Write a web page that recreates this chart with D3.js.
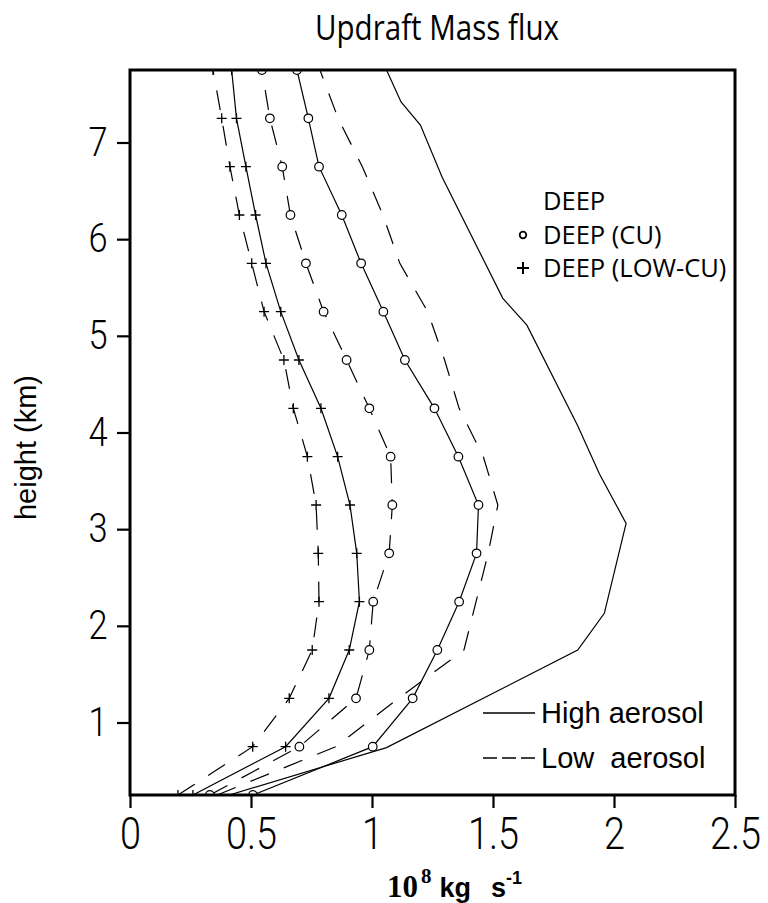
<!DOCTYPE html>
<html>
<head>
<meta charset="utf-8">
<script src="https://cdn.jsdelivr.net/npm/d3@7"></script>
<style>
  body { margin: 0; background: #fff; }
</style>
</head>
<body>
<svg id="chart" width="768" height="903"></svg>
<script>
// heights (km) where the CU / LOW-CU profiles are sampled
var levels = [0.25, 0.75, 1.25, 1.75, 2.25, 2.75, 3.25, 3.75, 4.25, 4.75, 5.25, 5.75, 6.25, 6.75, 7.25, 7.75];

// DEEP, high aerosol (solid, no marker) has its own vertices
var deepHighHeights = [0.25, 0.74, 1.75, 2.13, 3.06, 3.57, 4.07, 5.11, 5.39, 6.64, 7.18, 7.42, 7.75];
var deepHighFlux    = [0.41, 1.06, 1.85, 1.96, 2.05, 1.94, 1.85, 1.64, 1.54, 1.29, 1.20, 1.12, 1.06];

// values on levels, 10^8 kg/s
var deepLowFlux    = [0.36, 0.85, 1.11, 1.38, 1.43, 1.48, 1.52, 1.46, 1.36, 1.30, 1.23, 1.115, 1.045, 0.96, 0.86, 0.785];
var cuHighFlux     = [0.508, 1.003, 1.168, 1.27, 1.36, 1.432, 1.44, 1.357, 1.258, 1.136, 1.047, 0.955, 0.875, 0.781, 0.737, 0.69];
var cuLowFlux      = [0.33, 0.70, 0.934, 0.989, 1.005, 1.071, 1.084, 1.077, 0.989, 0.895, 0.80, 0.727, 0.663, 0.629, 0.578, 0.545];
var lowCuHighFlux  = [0.26, 0.643, 0.822, 0.906, 0.948, 0.937, 0.909, 0.858, 0.789, 0.698, 0.623, 0.562, 0.519, 0.479, 0.44, 0.42];
var lowCuLowFlux   = [0.198, 0.507, 0.658, 0.753, 0.781, 0.778, 0.769, 0.733, 0.675, 0.636, 0.554, 0.503, 0.452, 0.413, 0.379, 0.343];

var xTicks = [0, 0.5, 1, 1.5, 2, 2.5];
var yTicks = [1, 2, 3, 4, 5, 6, 7];
var markerLegend = ["DEEP", "DEEP (CU)", "DEEP (LOW-CU)"];
var lineLegend = ["High aerosol", "Low  aerosol"];

function zip(hs, vs) {
  return hs.map(function(h, i) { return [vs[i], h]; });
}

var margin = {top: 70, right: 33, bottom: 108, left: 130};
var width = 768 - margin.left - margin.right,
    height = 903 - margin.top - margin.bottom;

var svg = d3.select("#chart")
  .append("g")
  .attr("transform", "translate(" + margin.left + "," + margin.top + ")");

var xScale = d3.scaleLinear().domain([0, 2.5]).range([0, width]);
var yScale = d3.scaleLinear().domain([0.25, 7.75]).range([height, 0]);

svg.append("clipPath")
  .attr("id", "plot-area")
  .append("rect")
  .attr("width", width)
  .attr("height", height);

var line = d3.line()
  .x(function(d) { return xScale(d[0]); })
  .y(function(d) { return yScale(d[1]); });

var series = [
  {data: zip(deepHighHeights, deepHighFlux), dash: null, marker: null},
  {data: zip(levels, deepLowFlux), dash: "20,16", marker: null},
  {data: zip(levels, cuHighFlux), dash: null, marker: "circle"},
  {data: zip(levels, cuLowFlux), dash: "20,16", marker: "circle"},
  {data: zip(levels, lowCuHighFlux), dash: null, marker: "plus"},
  {data: zip(levels, lowCuLowFlux), dash: "20,16", marker: "plus"}
];

var plot = svg.append("g").attr("clip-path", "url(#plot-area)");

series.forEach(function(s) {
  plot.append("path")
    .datum(s.data)
    .attr("fill", "none")
    .attr("stroke", "#000")
    .attr("stroke-width", 1.2)
    .attr("stroke-dasharray", s.dash)
    .attr("d", line);
});

series.forEach(function(s) {
  if (s.marker === "circle") {
    plot.selectAll(null)
      .data(s.data)
      .enter().append("circle")
      .attr("cx", function(d) { return xScale(d[0]); })
      .attr("cy", function(d) { return yScale(d[1]); })
      .attr("r", 4.3)
      .attr("fill", "#fff")
      .attr("stroke", "#000")
      .attr("stroke-width", 1.2);
  } else if (s.marker === "plus") {
    plot.selectAll(null)
      .data(s.data)
      .enter().append("path")
      .attr("transform", function(d) { return "translate(" + xScale(d[0]) + "," + yScale(d[1]) + ")"; })
      .attr("d", "M-5,0H5M0,-5V5")
      .attr("stroke", "#000")
      .attr("stroke-width", 1.3);
  }
});

// axes
var xAxis = d3.axisBottom(xScale)
  .tickValues(xTicks)
  .tickSize(13)
  .tickPadding(10)
  .tickFormat(d3.format("~g"));

var yAxis = d3.axisLeft(yScale)
  .tickValues(yTicks)
  .tickSize(13)
  .tickPadding(13)
  .tickFormat(d3.format("d"));

var gx = svg.append("g")
  .attr("transform", "translate(0," + height + ")")
  .call(xAxis);
var gy = svg.append("g").call(yAxis);

[gx, gy].forEach(function(g) {
  g.select(".domain").remove();
  g.selectAll(".tick line").attr("stroke", "#000").attr("stroke-width", 2.2);
  g.selectAll(".tick text")
    .attr("fill", "#000")
    .style("font-family", "Roboto, 'Liberation Sans', sans-serif")
    .style("font-weight", 300)
    .attr("transform", "scale(0.86,1)");
});
gx.selectAll(".tick text").style("font-size", "44px");
gy.selectAll(".tick text").style("font-size", "40px");

svg.append("rect")
  .attr("width", width)
  .attr("height", height)
  .attr("fill", "none")
  .attr("stroke", "#000")
  .attr("stroke-width", 3);

// title
svg.append("text")
  .attr("x", 307)
  .attr("y", -30)
  .attr("text-anchor", "middle")
  .attr("textLength", 244)
  .attr("lengthAdjust", "spacingAndGlyphs")
  .style("font-family", "'Open Sans', sans-serif")
  .style("font-size", "34px")
  .text("Updraft Mass flux");

// y label
svg.append("text")
  .attr("transform", "translate(-94," + (yScale(4) + 15) + ") rotate(-90)")
  .attr("text-anchor", "middle")
  .style("font-family", "'Liberation Sans', Arial, sans-serif")
  .style("font-size", "29px")
  .text("height (km)");

// x label: 10^8 kg s^-1
var xl = svg.append("text")
  .attr("x", 257)
  .attr("y", height + 102)
  .style("font-weight", "bold")
  .style("font-size", "27px");
xl.append("tspan").style("font-family", "'Liberation Serif', serif").style("font-size", "31px").text("10");
xl.append("tspan").style("font-family", "'Liberation Serif', serif").style("font-size", "21px").attr("dy", -14).attr("dx", 3).text("8");
xl.append("tspan").style("font-family", "'Liberation Sans', Arial, sans-serif").attr("dy", 14).attr("dx", 8).text("kg");
xl.append("tspan").style("font-family", "'Liberation Sans', Arial, sans-serif").attr("dx", 20).text("s");
xl.append("tspan").style("font-family", "'Liberation Sans', Arial, sans-serif").style("font-size", "18px").attr("dy", -13).text("-1");

// marker legend (top right)
var leg = svg.append("g")
  .style("font-family", "'Open Sans', sans-serif")
  .style("font-size", "25.5px");
markerLegend.forEach(function(t, i) {
  leg.append("text")
    .attr("x", 413)
    .attr("y", 140 + i * 33.5)
    .text(t);
});
leg.append("circle")
  .attr("cx", 393).attr("cy", 165)
  .attr("r", 3.3)
  .attr("fill", "#fff").attr("stroke", "#000").attr("stroke-width", 1.8);
leg.append("path")
  .attr("transform", "translate(393,198)")
  .attr("d", "M-6,0H6M0,-6V6")
  .attr("stroke", "#000").attr("stroke-width", 2);

// line legend (bottom right)
var lleg = svg.append("g")
  .style("font-family", "'Liberation Sans', Arial, sans-serif")
  .style("font-size", "29px");
lineLegend.forEach(function(t, i) {
  var yy = 643 + i * 45;
  lleg.append("line")
    .attr("x1", 353).attr("x2", 405)
    .attr("y1", yy).attr("y2", yy)
    .attr("stroke", "#000")
    .attr("stroke-width", 1.4)
    .attr("stroke-dasharray", i === 1 ? "14,5" : null);
  lleg.append("text")
    .attr("x", 411)
    .attr("y", yy + 10)
    .style("white-space", "pre")
    .attr("xml:space", "preserve")
    .text(t);
});
</script>
</body>
</html>
